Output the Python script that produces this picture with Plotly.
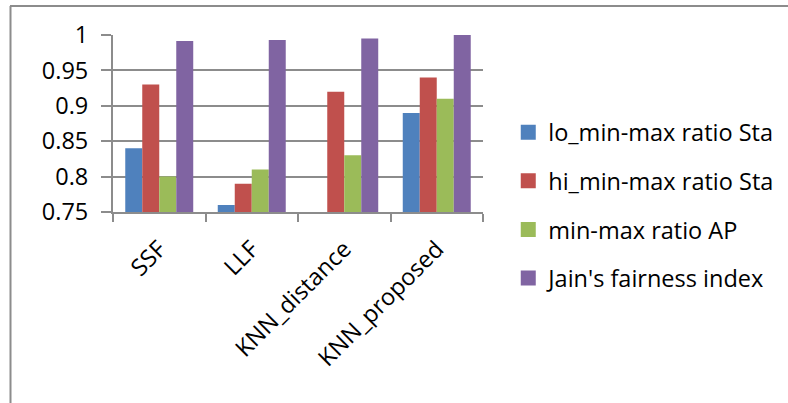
import plotly.graph_objects as go

categories = ["SSF", "LLF", "KNN_distance", "KNN_proposed"]
lo_minmax_sta = [0.84, 0.76, 0.74, 0.89]
hi_minmax_sta = [0.93, 0.79, 0.92, 0.94]
minmax_ap = [0.80, 0.81, 0.83, 0.91]
jain_index = [0.9915, 0.993, 0.995, 1.0]

series = [
    ("lo_min-max ratio Sta", lo_minmax_sta, "#4F81BD"),
    ("hi_min-max ratio Sta", hi_minmax_sta, "#C0504D"),
    ("min-max ratio AP", minmax_ap, "#9BBB59"),
    ("Jain's fairness index", jain_index, "#8064A2"),
]

FONT = "Open Sans"
FSIZE = 23.5
GRID = "#8c8c8c"

fig = go.Figure()
for i, (name, vals, color) in enumerate(series):
    fig.add_trace(go.Bar(
        x=categories, y=vals, name=name, marker_color=color,
        marker_line_width=0, showlegend=False,
    ))
    # square legend key for the series
    fig.add_trace(go.Scatter(
        x=[None], y=[None], mode="markers", name=name,
        marker=dict(symbol="square", size=15, color=color),
        legendgroup=f"g{i}", showlegend=True,
    ))

fig.update_layout(
    width=788, height=403,
    margin=dict(l=113, r=305, t=35, b=191, autoexpand=False),
    paper_bgcolor="white", plot_bgcolor="white",
    barmode="group", bargap=0.265, bargroupgap=0,
    font=dict(family=FONT, size=FSIZE, color="#000000"),
    showlegend=True,
    legend=dict(
        xref="container", yref="container",
        x=0.645, xanchor="left", y=0.49, yanchor="middle",
        font=dict(family=FONT, size=FSIZE, color="#000000"),
        tracegroupgap=15, bgcolor="rgba(0,0,0,0)", maxheight=400,
        itemwidth=30, borderwidth=0,
    ),
    xaxis=dict(
        type="category", tickangle=-45, tickson="boundaries",
        ticks="outside", ticklen=8, tickwidth=2, tickcolor=GRID,
        showline=True, linecolor=GRID, linewidth=2, automargin=False,
        showgrid=False, tickfont=dict(size=FSIZE), ticklabelstandoff=12,
    ),
    yaxis=dict(
        range=[0.75, 1.0], tickvals=[0.75, 0.8, 0.85, 0.9, 0.95, 1.0],
        ticktext=["0.75", "0.8", "0.85", "0.9", "0.95", "1"],
        ticks="outside", ticklen=10, tickwidth=2, tickcolor=GRID,
        showline=True, linecolor=GRID, linewidth=2, automargin=False,
        showgrid=True, gridcolor=GRID, gridwidth=2,
        zeroline=False, tickfont=dict(size=FSIZE), ticklabelstandoff=8,
    ),
)

# chart frame: left and top edges
fig.add_shape(type="line", xref="paper", yref="paper",
              x0=(10.5 - 113) / 370, x1=(10.5 - 113) / 370,
              y0=(212 - 6) / 177, y1=(212 - 403) / 177,
              line=dict(color=GRID, width=2))
fig.add_shape(type="line", xref="paper", yref="paper",
              x0=(10 - 113) / 370, x1=(788 - 113) / 370,
              y0=(212 - 6) / 177, y1=(212 - 6) / 177,
              line=dict(color=GRID, width=2))

fig.write_html("out.html")
